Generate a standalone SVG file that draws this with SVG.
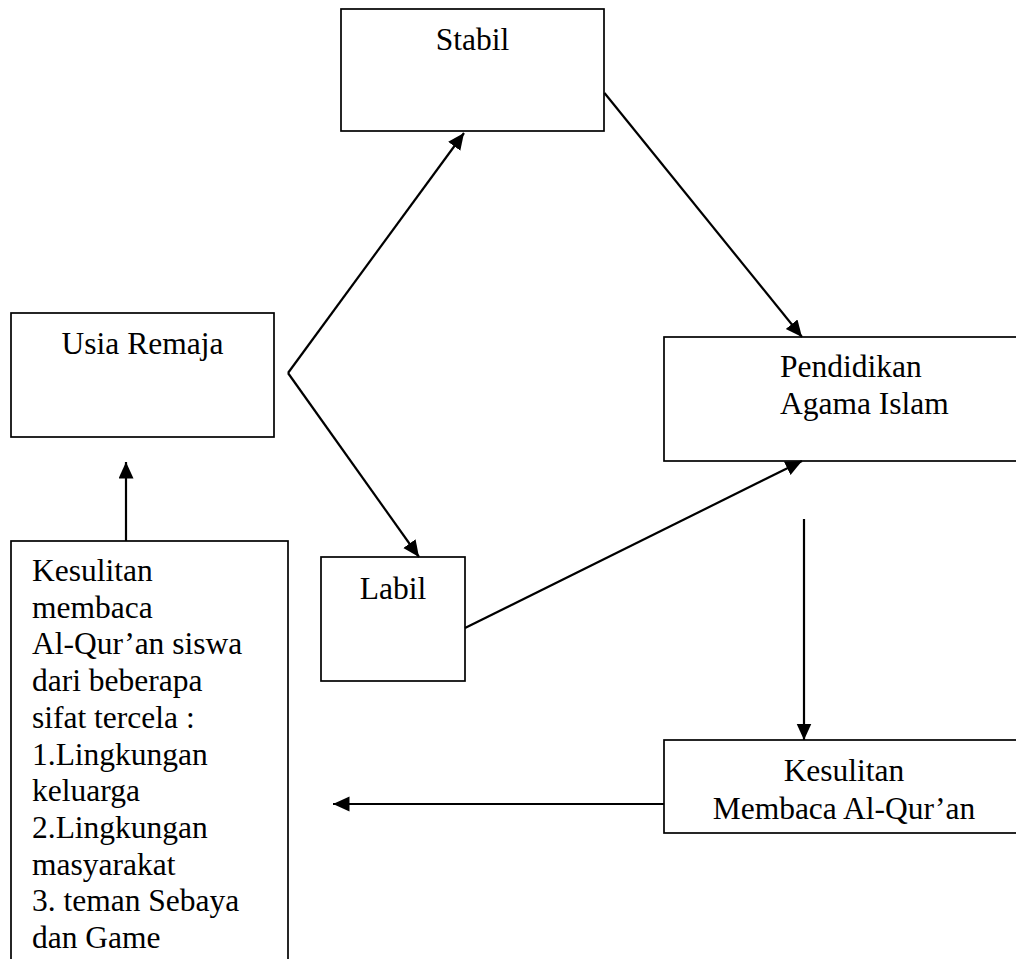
<svg xmlns="http://www.w3.org/2000/svg" width="1016" height="959" viewBox="0 0 1016 959">
<style>
.box{fill:#fff;stroke:#000;stroke-width:1.7}
.t{font-family:"Liberation Serif","Times New Roman",serif;font-size:31.5px;fill:#000}
.c{text-anchor:middle}
.ln{fill:none;stroke:#000;stroke-width:2.2}
</style>
<defs>
<marker id="ah" markerUnits="userSpaceOnUse" markerWidth="18" markerHeight="16" refX="16.5" refY="7.5" orient="auto">
<path d="M0,0 L16.5,7.5 L0,15 z" fill="#000"/>
</marker>
</defs>
<rect width="1016" height="959" fill="#fff"/>
<g id="stabil">
<rect class="box" x="341" y="9" width="263" height="122"/>
<text class="t c" x="472.5" y="49.5">Stabil</text>
</g>
<g id="usia-remaja">
<rect class="box" x="11" y="313" width="263" height="124"/>
<text class="t c" x="142.5" y="353.5">Usia Remaja</text>
</g>
<g id="pendidikan">
<rect class="box" x="664" y="337" width="360" height="124"/>
<text class="t" x="780" y="376.5">Pendidikan</text>
<text class="t" x="780" y="414">Agama Islam</text>
</g>
<g id="labil">
<rect class="box" x="321" y="557" width="144" height="124"/>
<text class="t c" x="393" y="598.5">Labil</text>
</g>
<g id="kesulitan-membaca">
<rect class="box" x="664" y="740" width="360" height="93"/>
<text class="t c" x="844" y="781">Kesulitan</text>
<text class="t c" x="844" y="818.5">Membaca Al-Qur’an</text>
</g>
<g id="sifat-tercela">
<rect class="box" x="11" y="541" width="277" height="440"/>
<text class="t" x="32">
<tspan x="32" y="581">Kesulitan</tspan>
<tspan x="32" y="617.7">membaca</tspan>
<tspan x="32" y="654.4">Al-Qur’an siswa</tspan>
<tspan x="32" y="691.1">dari beberapa</tspan>
<tspan x="32" y="727.8">sifat tercela :</tspan>
<tspan x="32" y="764.5">1.Lingkungan</tspan>
<tspan x="32" y="801.2">keluarga</tspan>
<tspan x="32" y="837.9">2.Lingkungan</tspan>
<tspan x="32" y="874.6">masyarakat</tspan>
<tspan x="32" y="911.3">3. teman Sebaya</tspan>
<tspan x="32" y="948">dan Game</tspan>
</text>
</g>
<g id="connectors">
<path class="ln" d="M288,373 L464,133" marker-end="url(#ah)"/>
<path class="ln" d="M288,373 L419,557" marker-end="url(#ah)"/>
<path class="ln" d="M604.5,93 L802,337" marker-end="url(#ah)"/>
<path class="ln" d="M465,628 L802,461" marker-end="url(#ah)"/>
<path class="ln" d="M804,519 L804,740" marker-end="url(#ah)"/>
<path class="ln" d="M664,804 L333,804" marker-end="url(#ah)"/>
<path class="ln" d="M126,541 L126,462" marker-end="url(#ah)"/>
</g>
</svg>
